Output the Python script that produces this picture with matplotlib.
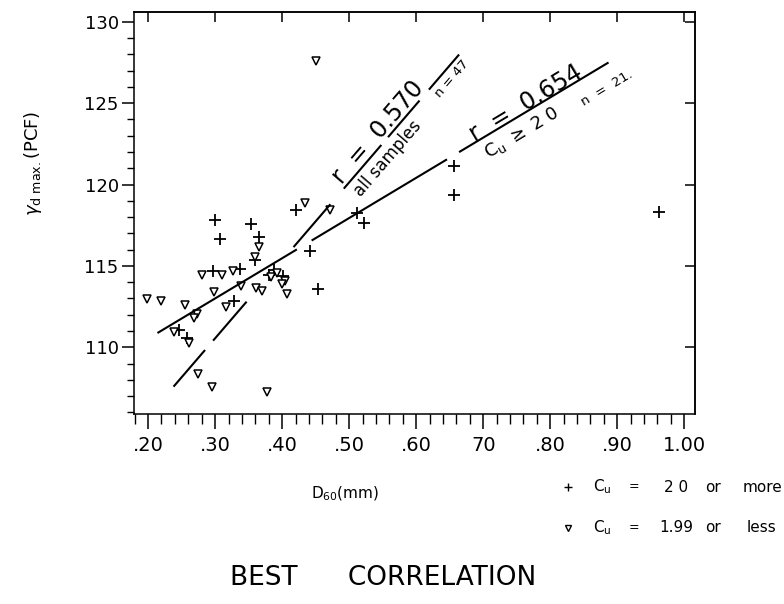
"""
Best correlation: max. dry unit weight vs D60, scanned-report style.
"""

import numpy as np
import matplotlib.pyplot as plt
from matplotlib.lines import Line2D
from matplotlib.ticker import MultipleLocator, FixedLocator, NullLocator

plt.rcParams.update({
    'font.family': 'DejaVu Sans',
    'mathtext.fontset': 'dejavusans',
    'axes.linewidth': 1.1,
})

# samples with Cu = 20 or more (plus markers)
plus_d60 = [0.300, 0.307, 0.353, 0.365, 0.420, 0.441, 0.453, 0.512, 0.522,
            0.656, 0.656, 0.963, 0.297, 0.246, 0.258, 0.328, 0.388, 0.359,
            0.381, 0.402, 0.337]
plus_gamma = [117.85, 116.66, 117.55, 116.76, 118.45, 115.91, 113.57, 118.25,
              117.65, 121.14, 119.35, 118.30, 114.66, 111.07, 110.57, 112.87,
              114.77, 115.37, 114.47, 114.40, 114.80]

# samples with Cu = 1.99 or less (open triangles)
tri_d60 = [0.198, 0.220, 0.255, 0.273, 0.269, 0.238, 0.261, 0.298, 0.281,
           0.310, 0.327, 0.317, 0.338, 0.365, 0.360, 0.434, 0.275, 0.295,
           0.377, 0.451, 0.472, 0.361, 0.370, 0.392, 0.405, 0.408, 0.383,
           0.400]
tri_gamma = [112.97, 112.87, 112.57, 112.07, 111.77, 110.92, 110.27, 113.37,
             114.47, 114.42, 114.67, 112.47, 113.77, 116.16, 115.56, 118.85,
             108.38, 107.58, 107.28, 127.60, 118.45, 113.67, 113.47, 114.57,
             114.07, 113.27, 114.30, 113.90]

# regression lines (slope, intercept) and the x-ranges where the ink is drawn
cu20_slope, cu20_icpt = 24.7, 105.59
cu20_segments = [(0.214, 0.422), (0.444, 0.646), (0.664, 0.887)]
all_slope, all_icpt = 47.9, 96.18
all_segments = [(0.238, 0.285), (0.297, 0.347), (0.417, 0.472),
                (0.492, 0.548), (0.558, 0.605), (0.619, 0.664)]

x_ticks = [0.2, 0.3, 0.4, 0.5, 0.6, 0.7, 0.8, 0.9, 1.0]
x_ticklabels = ['.20', '.30', '.40', '.50', '.60', '70', '.80', '.90', '1.00']
y_ticks = [110, 115, 120, 125, 130]

W, H = 784, 604
fig = plt.figure(figsize=(W / 100, H / 100), dpi=100)
ax = fig.add_axes([134 / W, 1 - 414 / H, (695 - 134) / W, (414 - 12) / H])
ax.set_xlim(0.179, 1.016)
ax.set_ylim(105.9, 130.6)

# data
ax.plot(plus_d60, plus_gamma, ls='none', marker='+', ms=8, mew=1.3, color='black')
ax.plot(tri_d60, tri_gamma, ls='none', marker='v', ms=6, mew=1.1,
        mfc='white', mec='black')

for x0, x1 in cu20_segments:
    xs = np.array([x0, x1])
    ax.plot(xs, cu20_icpt + cu20_slope * xs, color='black', lw=1.5,
            solid_capstyle='butt')
for x0, x1 in all_segments:
    xs = np.array([x0, x1])
    ax.plot(xs, all_icpt + all_slope * xs, color='black', lw=1.5,
            solid_capstyle='butt')


def screen_angle(slope):
    p0 = ax.transData.transform((0.4, slope * 0.4))
    p1 = ax.transData.transform((0.6, slope * 0.6))
    return np.degrees(np.arctan2(p1[1] - p0[1], p1[0] - p0[0]))


ang_all = screen_angle(all_slope)
ang_cu = screen_angle(cu20_slope)
kw = dict(ha='center', va='center', rotation_mode='anchor')
ax.text(0.543, 123.2, 'r  =  0.570', fontsize=17, rotation=ang_all, **kw)
ax.text(0.557, 121.6, 'all samples', fontsize=12, rotation=ang_all, **kw)
ax.text(0.654, 126.5, 'n = 47', fontsize=9.5, rotation=ang_all, **kw)
ax.text(0.763, 125.0, 'r  =  0.654', fontsize=17, rotation=ang_cu, **kw)
ax.text(0.757, 123.2, r'C$_\mathrm{u}$ $\geq$ 2 0', fontsize=13, rotation=ang_cu, **kw)
ax.text(0.884, 125.9, 'n  =  21.', fontsize=9.5, rotation=ang_cu, **kw)

# ticks: outward on bottom/left, short inward marks on top/right
ax.xaxis.set_major_locator(FixedLocator(x_ticks))
ax.set_xticklabels(x_ticklabels)
ax.xaxis.set_minor_locator(MultipleLocator(0.02))
ax.yaxis.set_major_locator(FixedLocator(y_ticks))
ax.yaxis.set_minor_locator(MultipleLocator(1))
ax.tick_params(axis='x', which='major', direction='out', length=11, width=1.1,
               labelsize=14, pad=5)
ax.tick_params(axis='x', which='minor', direction='out', length=7, width=1.0)
ax.tick_params(axis='y', which='major', direction='out', length=9, width=1.1,
               labelsize=13, pad=2)
ax.tick_params(axis='y', which='minor', direction='out', length=5, width=1.0)

top = ax.secondary_xaxis('top')
top.xaxis.set_major_locator(FixedLocator(x_ticks))
top.xaxis.set_minor_locator(NullLocator())
top.tick_params(direction='in', length=7, width=1.1, labeltop=False)
right = ax.secondary_yaxis('right')
right.yaxis.set_major_locator(FixedLocator(y_ticks))
right.yaxis.set_minor_locator(NullLocator())
right.tick_params(direction='in', length=7, width=1.1, labelright=False)

# axis titles
fig.text(345 / W, 1 - 494 / H, r'D$_{60}$(mm)', fontsize=11, ha='center', va='center')
fig.text(33 / W, 1 - 163 / H, r'$\gamma_{\mathrm{d\ max.}}$(PCF)', fontsize=13,
         rotation=90, ha='center', va='center')

# key
for yy, mk, val, word in [(487, '+', '2 0', 'more'), (528, 'v', '1.99', 'less')]:
    fy = 1 - yy / H
    fig.add_artist(Line2D([568 / W], [fy], marker=mk, ms=6 if mk == '+' else 4.5,
                          mew=1.0, mfc='white', mec='black', color='black',
                          transform=fig.transFigure))
    fig.text(602 / W, fy, r'C$_\mathrm{u}$', fontsize=11, ha='center', va='center')
    fig.text(634 / W, fy, '=', fontsize=9, ha='center', va='center')
    fig.text(676 / W, fy, val, fontsize=11, ha='center', va='center')
    fig.text(713 / W, fy, 'or', fontsize=11, ha='center', va='center')
    fig.text(762 / W, fy, word, fontsize=11, ha='center', va='center')

fig.text(383 / W, 1 - 578 / H, 'BEST      CORRELATION', fontsize=19,
         ha='center', va='center')

fig.savefig('out.png', dpi=100, facecolor='white')
